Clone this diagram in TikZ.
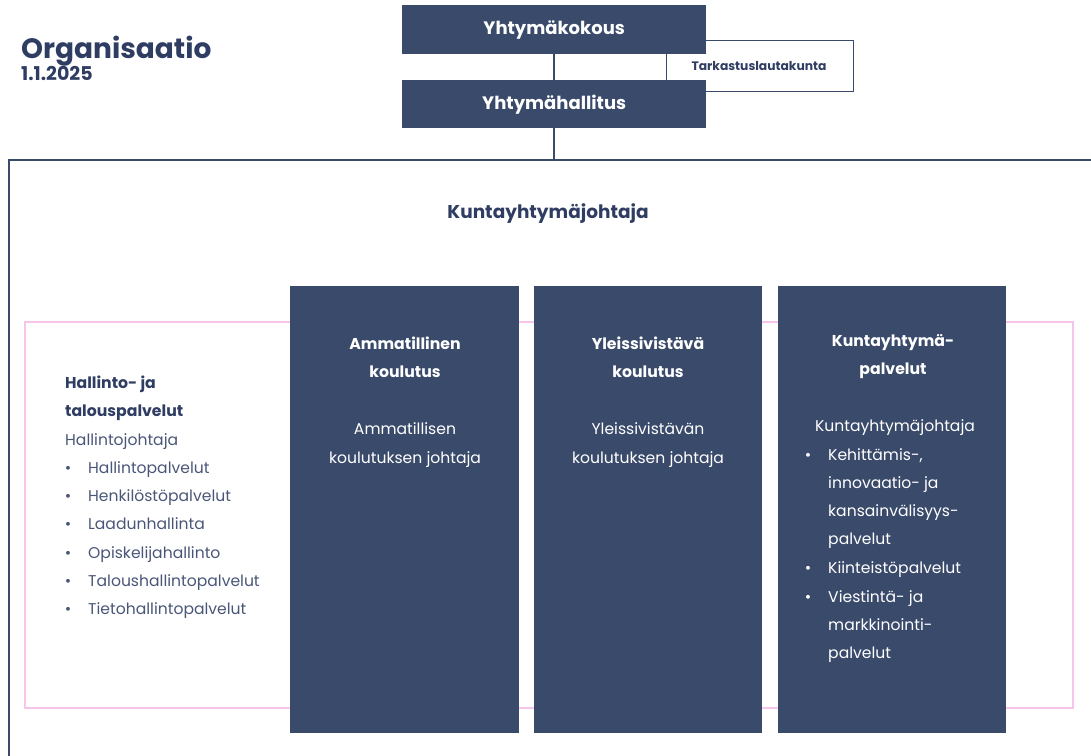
\documentclass[tikz,border=0pt]{standalone}
\usepackage{fontspec}
\setmainfont{Poppins}
\definecolor{navy}{HTML}{3A4A6B}
\definecolor{ink}{HTML}{2F3D63}
\definecolor{body}{HTML}{4A5678}
\definecolor{pinkline}{HTML}{F7C4EC}
\tikzset{
  darkbox/.style={fill=navy, draw=none},
  headtxt/.style={text=white, font=\bfseries\fontsize{18}{20}\selectfont},
  coltitle/.style={text=white, font=\bfseries\fontsize{15.7}{18}\selectfont, anchor=base, inner sep=0pt},
  coltext/.style={text=white, font=\fontsize{15.6}{18}\selectfont, anchor=base, inner sep=0pt},
  lefttitle/.style={text=ink, font=\bfseries\fontsize{15.7}{18}\selectfont, anchor=base west, inner sep=0pt},
  lefttext/.style={text=body, font=\fontsize{15.6}{18}\selectfont, anchor=base west, inner sep=0pt},
  conn/.style={draw=navy, line width=2pt},
}
\begin{document}
\begin{tikzpicture}[x=1pt,y=-1pt]
\useasboundingbox (0,0) rectangle (1091,755);
% outer frame
\draw[navy, line width=1.8pt] (1100,160) -- (9,160) -- (9,765);
% pink frame
\draw[pinkline, line width=1.3pt] (25,322) rectangle (1073,708);
% Tarkastuslautakunta
\node[draw=navy, line width=1.3pt, minimum width=187pt, minimum height=51pt, anchor=north west, inner sep=0pt] (tark) at (666,40) {};
\node[text=ink, font=\bfseries\fontsize{12.3}{14}\selectfont] (tarkt) at (759,66) {Tarkastuslautakunta};
% top boxes
\node[darkbox, minimum width=304pt, minimum height=49pt, anchor=north west, inner sep=0pt] (kok) at (402,5) {};
\node[headtxt] at (kok.center) {Yhtymäkokous};
\node[darkbox, minimum width=304pt, minimum height=48pt, anchor=north west, inner sep=0pt] (hal) at (402,80) {};
\node[headtxt] at (hal.center) {Yhtymähallitus};
\coordinate (frametop) at (554,160);
\draw[conn] (kok.south -| frametop) -- (hal.north -| frametop);
\draw[conn] (hal.south -| frametop) -- (frametop);
% title
\node[text=ink, font=\bfseries\fontsize{28}{30}\selectfont, anchor=base west, inner sep=0pt] (org) at (21,58) {Organisaatio};
\node[text=ink, font=\bfseries\fontsize{19}{21}\selectfont, anchor=base west, inner sep=0pt] (date) at (21,80) {1.1.2025};
\node[text=ink, font=\bfseries\fontsize{18.5}{20}\selectfont, anchor=base, inner sep=0pt] (kj) at (548,218) {Kuntayhtymäjohtaja};
% columns
\node[darkbox, minimum width=229pt, minimum height=447pt, anchor=north west, inner sep=0pt] (c1) at (290,286) {};
\node[darkbox, minimum width=228pt, minimum height=447pt, anchor=north west, inner sep=0pt] (c2) at (534,286) {};
\node[darkbox, minimum width=228pt, minimum height=447pt, anchor=north west, inner sep=0pt] (c3) at (778,286) {};
% column 1
\node[coltitle] at (405,349) {Ammatillinen};
\node[coltitle] at (405,377) {koulutus};
\node[coltext] at (405,434) {Ammatillisen};
\node[coltext] at (405,463) {koulutuksen johtaja};
% column 2
\node[coltitle] at (648,349) {Yleissivistävä};
\node[coltitle] at (648,377) {koulutus};
\node[coltext] at (648,434) {Yleissivistävän};
\node[coltext] at (648,463) {koulutuksen johtaja};
% column 3
\node[coltitle] at (893,346) {Kuntayhtymä-};
\node[coltitle] at (893,374) {palvelut};
\node[coltext] at (895,431) {Kuntayhtymäjohtaja};
\foreach \y in {460, 573, 602}{
  \node[coltext, anchor=base] at (808,\y) {•};
}
\node[coltext, anchor=base west] at (828,460) {Kehittämis-,};
\node[coltext, anchor=base west] at (828,488) {innovaatio- ja};
\node[coltext, anchor=base west] at (828,516) {kansainvälisyys-};
\node[coltext, anchor=base west] at (828,544) {palvelut};
\node[coltext, anchor=base west] at (828,573) {Kiinteistöpalvelut};
\node[coltext, anchor=base west] at (828,602) {Viestintä- ja};
\node[coltext, anchor=base west] at (828,630) {markkinointi-};
\node[coltext, anchor=base west] at (828,658) {palvelut};
% left block
\node[lefttitle] at (65,388) {Hallinto- ja};
\node[lefttitle] at (65,416) {talouspalvelut};
\node[lefttext] at (65,445) {Hallintojohtaja};
\foreach \t/\y in {Hallintopalvelut/473, Henkilöstöpalvelut/501, Laadunhallinta/529, Opiskelijahallinto/558, Taloushallintopalvelut/586, Tietohallintopalvelut/614}{
  \node[lefttext, anchor=base] at (68,\y) {•};
  \node[lefttext] at (88,\y) {\t};
}
\end{tikzpicture}
\end{document}
